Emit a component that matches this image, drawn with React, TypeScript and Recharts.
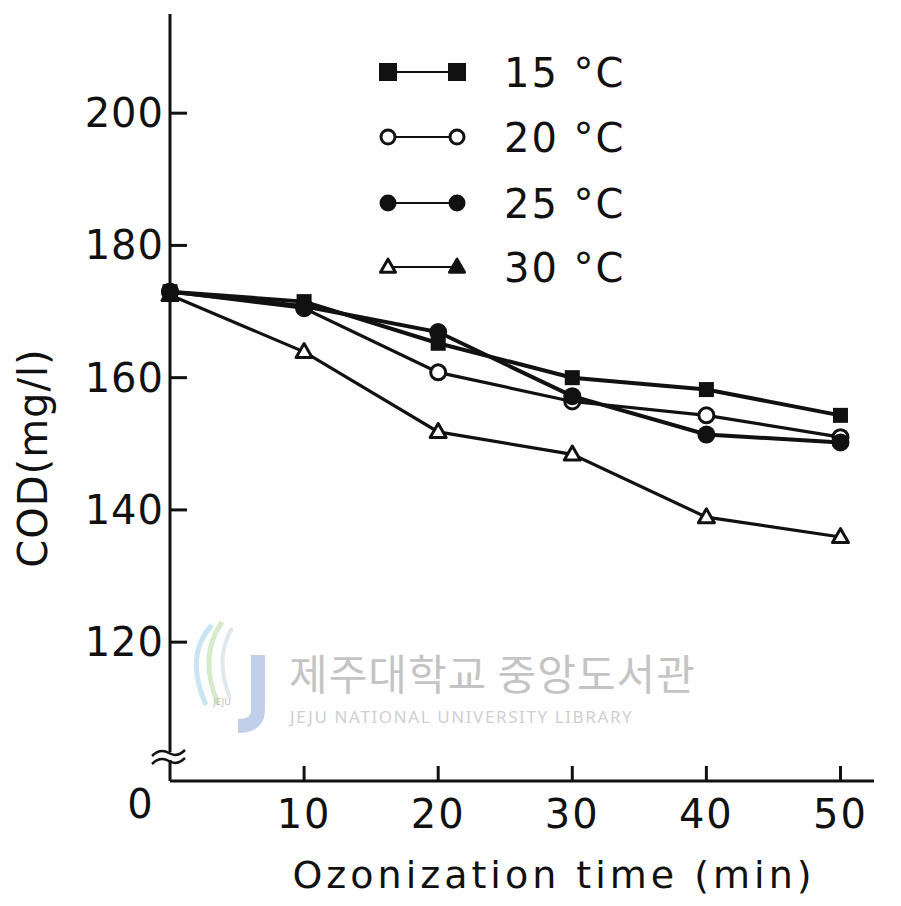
import React from "react";
import { LineChart, Line, XAxis, YAxis } from "recharts";

// ozonization time (min) and COD (mg/l)
const times = [0, 10, 20, 30, 40, 50];
const cod15 = [173.0, 171.5, 165.2, 160.0, 158.2, 154.3];
const cod20 = [173.0, 170.5, 160.8, 156.4, 154.3, 151.0];
const cod25 = [173.0, 170.8, 166.9, 157.2, 151.4, 150.2];
const cod30 = [172.5, 163.9, 151.8, 148.4, 138.9, 135.9];
const seriesLabels = ["15 °C", "20 °C", "25 °C", "30 °C"];
const xTicks = [0, 10, 20, 30, 40, 50];
const yTicks = [120, 140, 160, 180, 200];

const data = times.map((t, i) => ({
  t, c15: cod15[i], c20: cod20[i], c25: cod25[i], c30: cod30[i],
}));

const FONT = "'DejaVu Sans', sans-serif";
const INK = "#111";

function Square({ cx, cy, s = 15 }: any) {
  return <rect x={cx - s / 2} y={cy - s / 2} width={s} height={s} fill={INK} />;
}
function OpenCircle({ cx, cy, r = 7.5 }: any) {
  return <circle cx={cx} cy={cy} r={r} fill="#fff" stroke={INK} strokeWidth={3} />;
}
function FilledCircle({ cx, cy, r = 9 }: any) {
  return <circle cx={cx} cy={cy} r={r} fill={INK} />;
}
function Triangle({ cx, cy, s = 16, filled = false }: any) {
  const h = s * 0.87;
  const d = `M${cx} ${cy - h * 0.6} L${cx + s / 2} ${cy + h * 0.4} L${cx - s / 2} ${cy + h * 0.4} Z`;
  return <path d={d} fill={filled ? INK : "#fff"} stroke={INK} strokeWidth={3} strokeLinejoin="round" />;
}

function YTick({ x, y, payload }: any) {
  return (
    <g>
      <line x1={x} x2={x + 17} y1={y} y2={y} stroke={INK} strokeWidth={3} />
      <text x={x - 6} y={y + 14} textAnchor="end" fontSize={40} fontFamily={FONT} letterSpacing={1} fill={INK}>
        {payload.value}
      </text>
    </g>
  );
}

function XTick({ x, y, payload }: any) {
  if (payload.value === 0) {
    return (
      <text x={x - 30} y={y + 37} textAnchor="middle" fontSize={40} fontFamily={FONT} fill={INK}>0</text>
    );
  }
  return (
    <g>
      <line x1={x} x2={x} y1={y} y2={y - 15} stroke={INK} strokeWidth={3} />
      <text x={x} y={y + 47} textAnchor="middle" fontSize={40} fontFamily={FONT} letterSpacing={2} fill={INK}>
        {payload.value}
      </text>
    </g>
  );
}

function Legend() {
  const rows = [32, 97, 163, 227];
  const marks = [
    (cx: number, cy: number) => <Square cx={cx} cy={cy} s={18} />,
    (cx: number, cy: number) => <OpenCircle cx={cx} cy={cy} r={7} />,
    (cx: number, cy: number) => <FilledCircle cx={cx} cy={cy} r={8.5} />,
    (cx: number, cy: number, right?: boolean) => <Triangle cx={cx} cy={cy} s={15} filled={right} />,
  ];
  return (
    <svg width={300} height={260} style={{ position: "absolute", left: 360, top: 40 }}>
      {seriesLabels.map((lab, i) => (
        <g key={lab}>
          <line x1={28} x2={97} y1={rows[i]} y2={rows[i]} stroke={INK} strokeWidth={2} />
          {marks[i](28, rows[i], false)}
          {marks[i](97, rows[i], true)}
          <text x={144} y={rows[i] + 15} fontSize={40} fontFamily={FONT} letterSpacing={2} fill={INK}>{lab}</text>
        </g>
      ))}
    </svg>
  );
}

function Overlay() {
  return (
    <svg width={901} height={906} style={{ position: "absolute", left: 0, top: 0, pointerEvents: "none" }}>
      {/* axis titles */}
      <text transform="translate(47 458) rotate(-90)" textAnchor="middle" fontSize={40} fontFamily={FONT} letterSpacing={1} fill={INK}>
        COD(mg/l)
      </text>
      <text x={554} y={888} textAnchor="middle" fontSize={38} fontFamily={FONT} letterSpacing={4} fill={INK}>
        Ozonization time (min)
      </text>
      {/* axis break */}
      <rect x={160} y={752} width={20} height={8} fill="#fff" />
      <path d="M152 756 q8 -8 17 -3 q8 5 16 -3" fill="none" stroke={INK} strokeWidth={2.5} />
      <path d="M152 764 q8 -8 17 -3 q8 5 16 -3" fill="none" stroke={INK} strokeWidth={2.5} />
      {/* library watermark */}
      <g opacity={0.55}>
        <path d="M212 625 q-28 30 -6 80" fill="none" stroke="#9fd0e8" strokeWidth={5} />
        <path d="M222 622 q-24 34 -4 82" fill="none" stroke="#b8dca0" strokeWidth={5} />
        <path d="M232 628 q-18 30 -2 70" fill="none" stroke="#c9d6e0" strokeWidth={4} />
        <path d="M258 655 v55 q0 16 -20 16" fill="none" stroke="#8fa8d8" strokeWidth={14} />
        <text x={222} y={705} textAnchor="middle" fontSize={9} fontFamily={FONT} fill="#8a8a8a">JEJU</text>
      </g>
      <text x={289} y={690} fontSize={42} letterSpacing={1} fontFamily="'Noto Sans CJK KR', sans-serif" fill="#c4c4c4">
        제주대학교 중앙도서관
      </text>
      <text x={290} y={723} fontSize={17} fontFamily="'Noto Sans', sans-serif" letterSpacing={1.6} fill="#cfcfcf">
        JEJU NATIONAL UNIVERSITY  LIBRARY
      </text>
    </svg>
  );
}

export default function App() {
  return (
    <div style={{ position: "absolute", left: 0, top: 0, width: 901, height: 906, background: "#fff" }}>
      <LineChart width={901} height={906} data={data} margin={{ top: 14, right: 27, left: 70, bottom: 25 }}>
        <XAxis
          dataKey="t" type="number" domain={[0, 52.5]} ticks={xTicks}
          axisLine={{ stroke: INK, strokeWidth: 3 }} tickLine={false}
          tickSize={0} tickMargin={0} height={100} tick={<XTick />} interval={0}
        />
        <YAxis
          type="number" domain={[99, 215]} ticks={yTicks}
          axisLine={{ stroke: INK, strokeWidth: 3 }} tickLine={false}
          tickSize={0} tickMargin={0} width={100} tick={<YTick />} interval={0}
        />
        <Line dataKey="c30" stroke={INK} strokeWidth={3.2} isAnimationActive={false}
          dot={(p: any) => <Triangle key={`t-${p.index}`} cx={p.cx} cy={p.cy} />} />
        <Line dataKey="c20" stroke={INK} strokeWidth={3.2} isAnimationActive={false}
          dot={(p: any) => <OpenCircle key={`o-${p.index}`} cx={p.cx} cy={p.cy} />} />
        <Line dataKey="c15" stroke={INK} strokeWidth={4} isAnimationActive={false}
          dot={(p: any) => <Square key={`s-${p.index}`} cx={p.cx} cy={p.cy} />} />
        <Line dataKey="c25" stroke={INK} strokeWidth={4} isAnimationActive={false}
          dot={(p: any) => <FilledCircle key={`f-${p.index}`} cx={p.cx} cy={p.cy} />} />
      </LineChart>
      <Legend />
      <Overlay />
    </div>
  );
}
